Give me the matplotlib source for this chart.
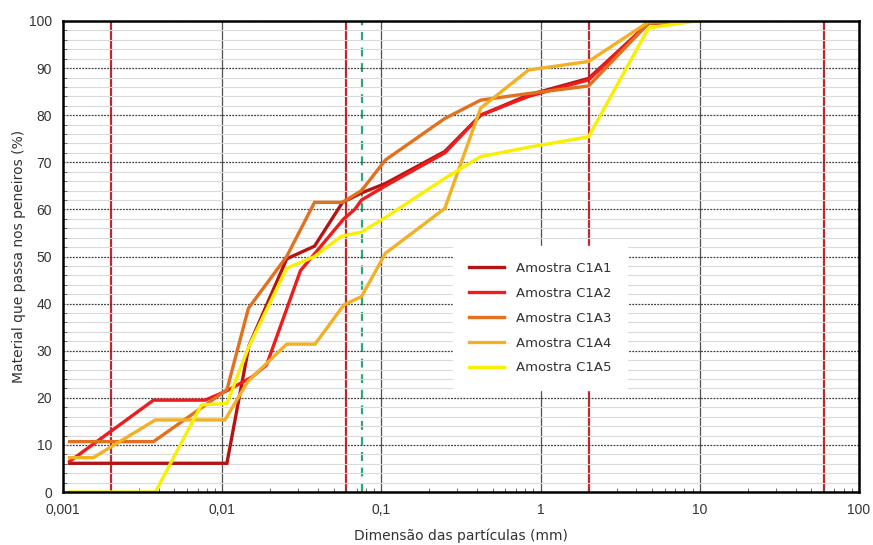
import matplotlib
matplotlib.use("Agg")
import matplotlib.pyplot as plt
from matplotlib.ticker import FixedLocator, NullFormatter, MultipleLocator

# ---- data ----
x_c1a1 = [0.0011, 0.0037, 0.0078, 0.0107, 0.0147, 0.0254, 0.038, 0.057, 0.075, 0.106, 0.25, 0.42, 0.84, 2.0, 4.76, 9.5]
y_c1a1 = [6.1, 6.1, 6.1, 6.1, 31.0, 49.5, 52.2, 61.5, 63.5, 65.5, 72.3, 80.0, 84.3, 87.8, 99.5, 100.0]

x_c1a2 = [0.0011, 0.0037, 0.0078, 0.0107, 0.0155, 0.019, 0.031, 0.058, 0.068, 0.075, 0.106, 0.25, 0.42, 0.84, 2.0, 4.76, 9.5]
y_c1a2 = [6.5, 19.5, 19.5, 21.5, 24.5, 27.0, 47.0, 58.0, 60.0, 62.0, 65.0, 72.0, 80.0, 84.0, 87.5, 99.5, 100.0]

x_c1a3 = [0.0011, 0.0037, 0.0107, 0.0146, 0.0254, 0.038, 0.057, 0.075, 0.106, 0.25, 0.42, 0.84, 2.0, 4.76, 9.5]
y_c1a3 = [10.7, 10.7, 21.7, 39.0, 50.0, 61.5, 61.5, 64.0, 70.5, 79.3, 83.2, 84.6, 86.2, 99.5, 100.0]

x_c1a4 = [0.0011, 0.00155, 0.0038, 0.0104, 0.0145, 0.0254, 0.0383, 0.058, 0.075, 0.106, 0.25, 0.42, 0.84, 2.0, 4.76, 9.5]
y_c1a4 = [7.3, 7.3, 15.3, 15.3, 23.5, 31.4, 31.4, 39.7, 41.5, 50.7, 60.2, 81.5, 89.6, 91.4, 99.8, 100.0]

x_c1a5 = [0.0011, 0.0038, 0.0074, 0.0107, 0.0147, 0.0254, 0.038, 0.056, 0.075, 0.106, 0.25, 0.42, 0.84, 2.0, 4.76, 9.5]
y_c1a5 = [0.0, 0.0, 18.5, 18.8, 30.9, 47.5, 50.0, 54.3, 55.2, 58.3, 66.6, 71.2, 73.2, 75.4, 98.5, 100.0]

series_names = ["Amostra C1A1", "Amostra C1A2", "Amostra C1A3", "Amostra C1A4", "Amostra C1A5"]
series_colors = ["#B41414", "#EE1C1C", "#E2701E", "#F2B024", "#F8F000"]

red_limits = [0.002, 0.06, 2.0, 60.0]
green_limit = [0.075]

x_ticks = [0.001, 0.01, 0.1, 1, 10, 100]
x_tick_labels = ["0,001", "0,01", "0,1", "1", "10", "100"]
y_ticks = [0, 10, 20, 30, 40, 50, 60, 70, 80, 90, 100]

# ---- figure ----
fig = plt.figure(figsize=(8.73, 5.45), dpi=100)
ax = fig.add_axes([0.0722, 0.0972, 0.9118, 0.8643])
ax.set_xscale("log")
ax.set_xlim(0.001, 100)
ax.set_ylim(0, 100)

# grid
ax.yaxis.set_minor_locator(MultipleLocator(2))
ax.set_yticks(y_ticks)
ax.grid(which="minor", axis="y", color="#dadada", linewidth=0.8, zorder=0)
ax.grid(which="major", axis="y", color="#404040", linewidth=0.9, linestyle=(0, (1.5, 1.0)), zorder=0.5)
ax.grid(which="major", axis="x", color="#505050", linewidth=0.9, zorder=0.5)

for v in red_limits:
    ax.axvline(v, color="#C0282C", linewidth=1.6, zorder=1)
for v in green_limit:
    ax.axvline(v, color="#2CA870", linewidth=1.6, linestyle=(0, (4, 3)), zorder=1.2)

xs = [x_c1a1, x_c1a2, x_c1a3, x_c1a4, x_c1a5]
ys = [y_c1a1, y_c1a2, y_c1a3, y_c1a4, y_c1a5]
for xv, yv, nm, col in zip(xs, ys, series_names, series_colors):
    ax.plot(xv, yv, color=col, linewidth=2.4, label=nm, zorder=3, solid_joinstyle="miter")

ax.xaxis.set_major_locator(FixedLocator(x_ticks))
ax.set_xticklabels(x_tick_labels)
ax.xaxis.set_minor_formatter(NullFormatter())

ax.tick_params(axis="both", which="major", direction="in", length=0, labelsize=10,
               labelcolor="#333333", pad=8)
ax.tick_params(axis="x", which="minor", direction="in", length=3, color="#555555")
ax.tick_params(axis="y", which="minor", direction="in", length=3, color="#555555")
for lab in ax.get_xticklabels() + ax.get_yticklabels():
    lab.set_family(["Liberation Sans", "DejaVu Sans"])

for sp in ax.spines.values():
    sp.set_color("black")
    sp.set_linewidth(1.8)
    sp.set_zorder(4)

ax.set_xlabel("Dimensão das partículas (mm)", fontsize=10, color="#333333", labelpad=8)
ax.set_ylabel("Material que passa nos peneiros (%)", fontsize=10, color="#333333", labelpad=2)

leg = ax.legend(loc="upper left", bbox_to_anchor=(0.490, 0.522), frameon=True,
                fontsize=9.5, handlelength=2.65, handletextpad=0.9,
                labelspacing=0.9, borderpad=1.2, borderaxespad=0.0, fancybox=False)
leg.get_frame().set_facecolor("white")
leg.get_frame().set_edgecolor("white")
leg.get_frame().set_alpha(1.0)
leg.set_zorder(5)
for t in leg.get_texts():
    t.set_color("#333333")

fig.savefig("out.png", dpi=100)
